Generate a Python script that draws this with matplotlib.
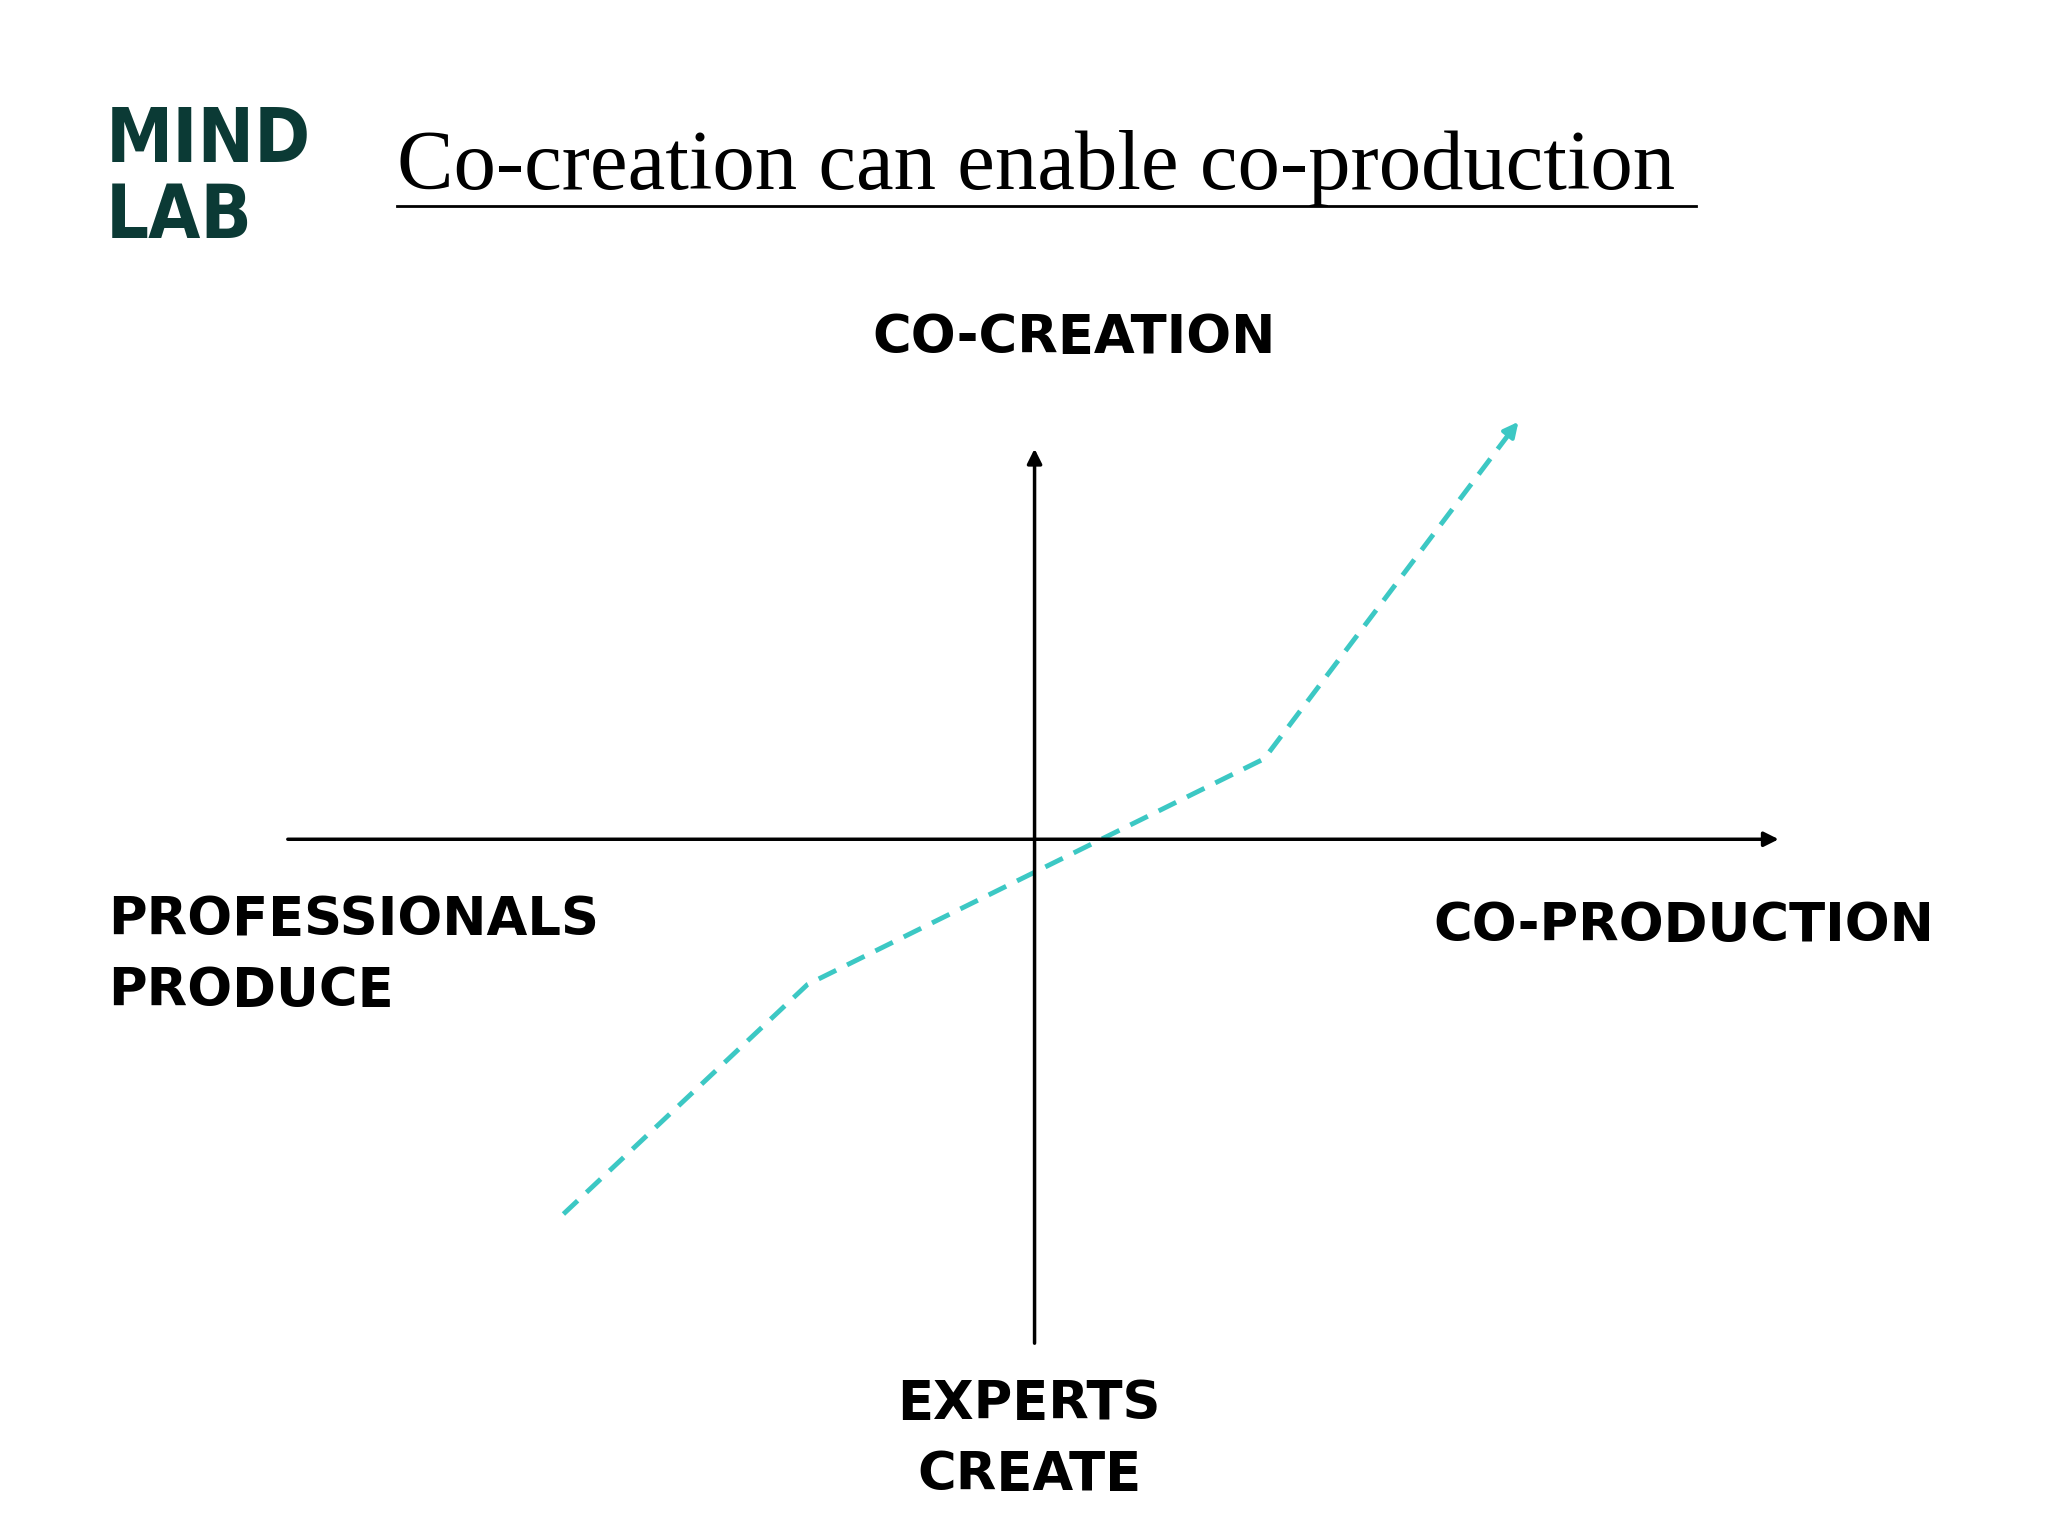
import matplotlib
matplotlib.use("Agg")
import matplotlib.pyplot as plt

path_x = [427, 612, 958, 1152]
path_y = [920, 746, 575, 318]
axis_h = ([216, 1350], [636, 636])
axis_v = ([784, 784], [1020, 338])

fig = plt.figure(figsize=(20.48, 15.36), dpi=100)
ax = fig.add_axes([0, 0, 1, 1])
ax.set_xlim(0, 1552); ax.set_ylim(1164, 0); ax.axis("off")

ax.annotate("", xy=(axis_h[0][1], axis_h[1][1]), xytext=(axis_h[0][0], axis_h[1][0]),
            arrowprops=dict(arrowstyle="-|>", lw=2.5, color="black", mutation_scale=22))
ax.annotate("", xy=(axis_v[0][1], axis_v[1][1]), xytext=(axis_v[0][0], axis_v[1][0]),
            arrowprops=dict(arrowstyle="-|>", lw=2.5, color="black", mutation_scale=22))
teal = "#3cc8c4"
ax.plot(path_x[:-1] + [path_x[-1] - 4], path_y[:-1] + [path_y[-1] + 5], ls=(0, (4, 2.5)), lw=3.5, color=teal)
ax.annotate("", xy=(path_x[-1], path_y[-1]), xytext=(path_x[-1] - 8, path_y[-1] + 10),
            arrowprops=dict(arrowstyle="-|>", lw=3, color=teal, mutation_scale=22))

hand = dict(fontfamily="DejaVu Sans", fontweight="heavy", color="black", fontsize=38)
ax.text(814, 256, "CO-CREATION", ha="center", va="center", **hand)
ax.text(1276, 702, "CO-PRODUCTION", ha="center", va="center", **hand)
ax.text(82, 724, "PROFESSIONALS\nPRODUCE", ha="left", va="center", linespacing=1.45, **hand)
ax.text(780, 1091, "EXPERTS\nCREATE", ha="center", va="center", linespacing=1.45, **hand)

ax.text(301, 128, "Co-creation can enable co-production", ha="left", va="center",
        fontfamily="Liberation Serif", fontsize=61, color="black")
ax.plot([301, 1285], [156, 156], color="black", lw=2)

ax.text(80, 136, "MIND\nLAB", ha="left", va="center", fontfamily="DejaVu Sans",
        fontstretch="condensed", fontweight="bold", fontsize=54, color="#0b3a35", linespacing=1.05)

fig.savefig("out.png", dpi=100, facecolor="white")
